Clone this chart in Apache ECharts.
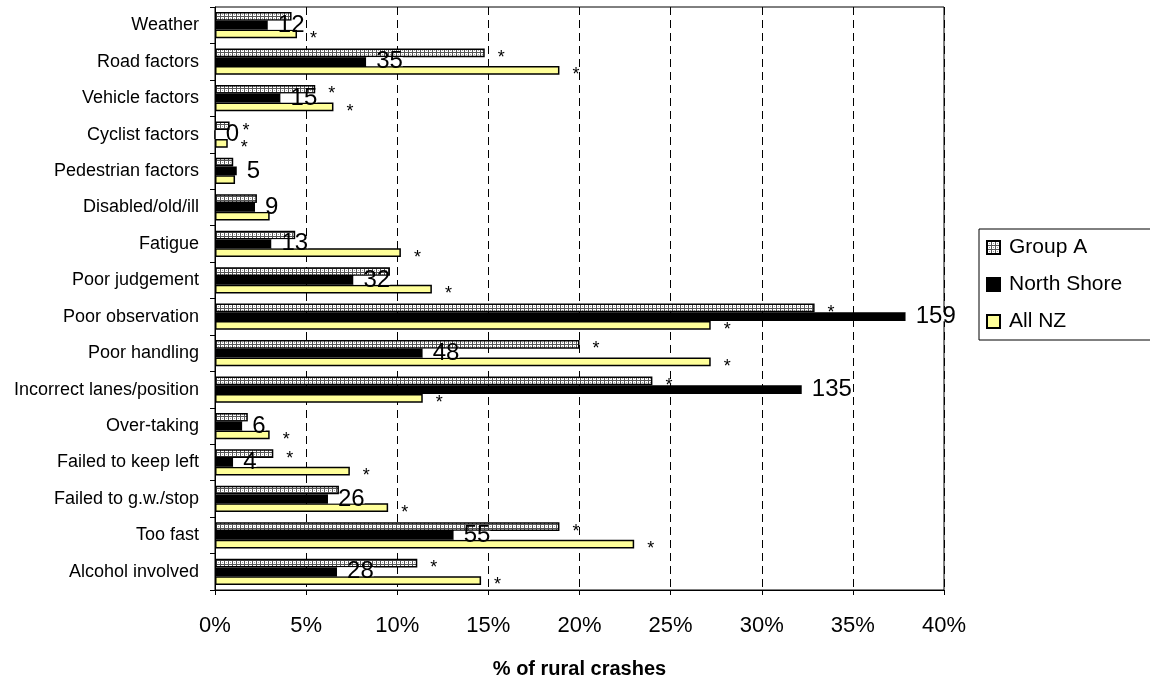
<!DOCTYPE html>
<html><head><meta charset="utf-8">
<script src="https://cdn.jsdelivr.net/npm/echarts@6/dist/echarts.min.js"></script>
<style>html,body{margin:0;padding:0;background:#fff}#c{width:1150px;height:680px}</style>
</head><body><div id="c"></div>
<script>
const categories = ['Weather','Road factors','Vehicle factors','Cyclist factors','Pedestrian factors','Disabled/old/ill','Fatigue','Poor judgement','Poor observation','Poor handling','Incorrect lanes/position','Over-taking','Failed to keep left','Failed to g.w./stop','Too fast','Alcohol involved'];
const groupA     = [4.2,14.8,5.5,0.8,1.0,2.3,4.4,9.6,32.9,20.0,24.0,1.8,3.2,6.8,18.9,11.1];
const northShore = [2.9,8.3,3.6,0,1.2,2.2,3.1,7.6,37.9,11.4,32.2,1.5,1.0,6.2,13.1,6.7];
const allNZ      = [4.5,18.9,6.5,0.7,1.1,3.0,10.2,11.9,27.2,27.2,11.4,3.0,7.4,9.5,23.0,14.6];
const northShoreCounts = [12,35,15,0,5,9,13,32,159,48,135,6,4,26,55,28];
const groupASig = [0,1,1,1,0,0,0,0,1,1,1,0,1,0,1,1];
const allNZSig  = [1,1,1,1,0,0,1,1,1,1,1,1,1,1,1,1];
const seriesNames = ['Group A','North Shore','All NZ'];
const axisTitle = '% of rural crashes';

const FONT = "'Liberation Sans', Arial, sans-serif";

// dotted pattern for Group A
const pc = document.createElement('canvas');
pc.width = 4; pc.height = 4;
const pctx = pc.getContext('2d');
pctx.fillStyle = '#ffffff'; pctx.fillRect(0,0,4,4);
pctx.fillStyle = '#555555';
pctx.fillRect(0,0,1,4);
pctx.fillRect(0,0,4,1);
pctx.fillStyle = '#a0a0a0';
pctx.fillRect(2,2,1,1);

const chart = echarts.init(document.getElementById('c'), null, {renderer:'canvas'});
const starLabel = (sig) => ({
  show: true, position: 'right', distance: 13, offset: [0, 5],
  fontFamily: FONT, fontSize: 18, color: '#000',
  formatter: p => sig[p.dataIndex] ? '*' : ''
});
chart.setOption({
  animation: false,
  backgroundColor: '#fff',
  grid: { left: 215, right: 206, top: 7, bottom: 90, show: true, borderColor: '#000', borderWidth: 1,
          containLabel: false, outerBoundsMode: 'none' },
  legend: {
    orient: 'vertical', left: 979, top: 229,
    data: seriesNames,
    icon: 'rect', itemWidth: 13, itemHeight: 13, itemGap: 12,
    borderColor: '#000', borderWidth: 1,
    padding: [6, 80, 6, 7],
    textStyle: { fontFamily: FONT, fontSize: 21, color: '#000', lineHeight: 25, padding: [0,0,0,4] }
  },
  xAxis: {
    type: 'value', min: 0, max: 40, interval: 5,
    name: axisTitle, nameLocation: 'middle', nameGap: 69,
    nameTextStyle: { fontFamily: FONT, fontSize: 20, fontWeight: 'bold', color: '#000' },
    axisLine: { show: true, lineStyle: { color: '#000', width: 1 } },
    axisTick: { show: true, length: 5, lineStyle: { color: '#000' } },
    axisLabel: { formatter: '{value}%', fontFamily: FONT, fontSize: 22, color: '#000', margin: 25 },
    splitLine: { show: true, lineStyle: { color: '#000', type: [8, 5], width: 1 } }
  },
  yAxis: {
    type: 'category', data: categories, inverse: true,
    axisLine: { show: true, lineStyle: { color: '#000', width: 1 } },
    axisTick: { show: true, length: 5, lineStyle: { color: '#000' } },
    axisLabel: { fontFamily: FONT, fontSize: 18, color: '#000', margin: 16 },
    splitLine: { show: false }
  },
  series: [
    { name: seriesNames[0], type: 'bar', data: groupA, barGap: '0%', barCategoryGap: '28%',
      itemStyle: { color: { image: pc, repeat: 'repeat' }, borderColor: '#000', borderWidth: 1.5 },
      label: starLabel(groupASig) },
    { name: seriesNames[1], type: 'bar', data: northShore,
      itemStyle: { color: '#000', borderColor: '#000', borderWidth: 1.5 },
      label: { show: true, position: 'right', distance: 0, fontFamily: FONT, fontSize: 24, color: '#000',
        backgroundColor: '#fff', padding: [0, 0, 0, 10], lineHeight: 9,
        formatter: p => String(northShoreCounts[p.dataIndex]) } },
    { name: seriesNames[2], type: 'bar', data: allNZ,
      itemStyle: { color: '#ffff99', borderColor: '#000', borderWidth: 1.5 },
      label: starLabel(allNZSig) }
  ]
});
</script></body></html>
